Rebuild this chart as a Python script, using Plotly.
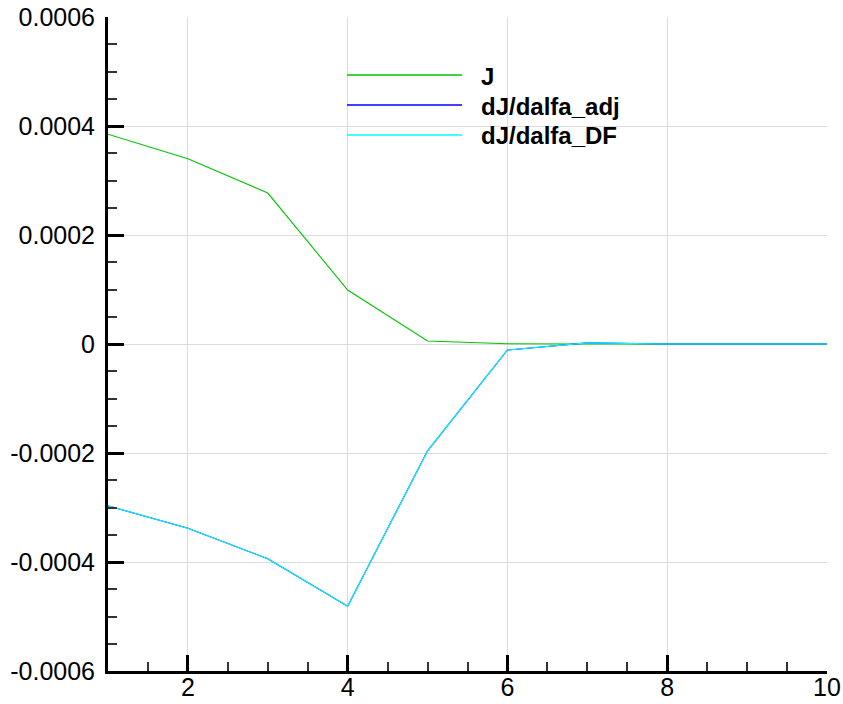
import plotly.graph_objects as go

x_vals = [1, 2, 3, 4, 5, 6, 7, 8, 9, 10]
J_vals = [0.000385, 0.000340, 0.000277, 0.000099, 0.0000055, 0.0000005, 0.0, 0.0, 0.0, 0.0]
adj_vals = [-0.000297, -0.000338, -0.000394, -0.000481, -0.000196, -0.000011, 0.000002, 0.0, 0.0, 0.0]
df_vals = [-0.000297, -0.000338, -0.000394, -0.000481, -0.000196, -0.000011, 0.000002, 0.0, 0.0, 0.0]
names = ["J", "dJ/dalfa_adj", "dJ/dalfa_DF"]
colors = ["#00c400", "#0000ff", "#00ffff"]

y_tickvals = [-0.0006, -0.0004, -0.0002, 0, 0.0002, 0.0004, 0.0006]
y_ticktext = ["-0.0006", "-0.0004", "-0.0002", "0", "0.0002", "0.0004", "0.0006"]
x_tickvals = [2, 4, 6, 8, 10]
x_ticktext = ["2", "4", "6", "8", "10"]

fig = go.Figure()
for vals, name, col in zip([J_vals, adj_vals, df_vals], names, colors):
    fig.add_trace(go.Scatter(x=x_vals, y=vals, mode="lines", name=name,
                             line=dict(color=col, width=1.1), showlegend=False))

W, H = 843, 704
ml, mr, mt, mb = 108, 16, 17, 33
pw, ph = W - ml - mr, H - mt - mb

def px_x(p):
    return (p - ml) / pw

def px_y(p):
    return (H - mb - p) / ph

# legend background box
fig.add_shape(type="rect", xref="paper", yref="paper",
              x0=px_x(318), x1=px_x(657), y0=px_y(176), y1=px_y(22),
              fillcolor="white", line=dict(width=0), layer="between")
rows = [75, 105, 135]
for r, name, col in zip(rows, names, colors):
    fig.add_shape(type="line", xref="paper", yref="paper",
                  x0=px_x(347), x1=px_x(462), y0=px_y(r), y1=px_y(r),
                  line=dict(color=col, width=1.5), layer="above")
    fig.add_annotation(xref="paper", yref="paper", x=px_x(479), y=px_y(r + 1),
                       text="<b>" + name + "</b>", showarrow=False,
                       xanchor="left", yanchor="middle",
                       font=dict(family="Liberation Sans, Arial", size=24, color="black"))

tf = dict(family="Liberation Sans, Arial", size=25, color="black")
fig.update_xaxes(range=[1, 10], tickvals=x_tickvals, ticktext=x_ticktext,
                 ticks="inside", ticklen=16, tickwidth=3, tickcolor="black",
                 showline=True, linecolor="black", linewidth=3,
                 showgrid=True, gridcolor="#dcdcdc", gridwidth=1, zeroline=False,
                 minor=dict(dtick=0.5, tick0=0, ticks="inside", ticklen=9, tickwidth=1.5,
                            tickcolor="#333", showgrid=False),
                 automargin=False, ticklabelstandoff=-8, tickfont=tf)
fig.update_yaxes(range=[-0.0006, 0.0006], tickvals=y_tickvals, ticktext=y_ticktext,
                 ticks="inside", ticklen=16, tickwidth=3, tickcolor="black",
                 showline=True, linecolor="black", linewidth=3,
                 showgrid=True, gridcolor="#dcdcdc", gridwidth=1, zeroline=False,
                 minor=dict(dtick=0.00005, tick0=0, ticks="inside", ticklen=9, tickwidth=1.5,
                            tickcolor="#333", showgrid=False),
                 automargin=False, ticklabelstandoff=5, tickfont=tf)

fig.update_layout(width=W, height=H, margin=dict(l=ml, r=mr, t=mt, b=mb),
                  plot_bgcolor="white", paper_bgcolor="white", showlegend=False)

fig.write_html("out.html")
